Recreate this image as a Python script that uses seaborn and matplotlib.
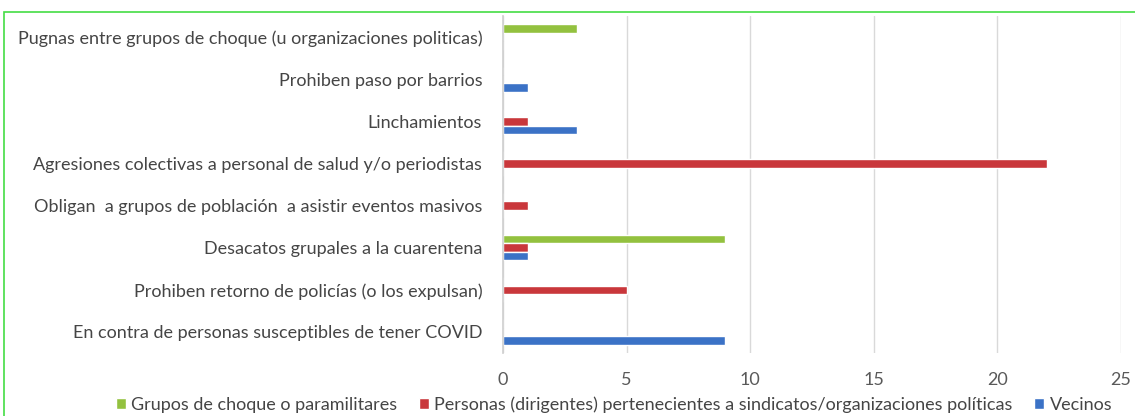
import matplotlib
matplotlib.use("Agg")
import matplotlib.pyplot as plt
import seaborn as sns
import pandas as pd
from matplotlib.patches import Rectangle

categories = [
    "Pugnas entre grupos de choque (u organizaciones politicas)",
    "Prohiben paso por barrios",
    "Linchamientos",
    "Agresiones colectivas a personal de salud y/o periodistas",
    "Obligan  a grupos de población  a asistir eventos masivos",
    "Desacatos grupales a la cuarentena",
    "Prohiben retorno de policías (o los expulsan)",
    "En contra de personas susceptibles de tener COVID",
]
series = [
    "Grupos de choque o paramilitares",
    "Personas (dirigentes) pertenecientes a sindicatos/organizaciones políticas",
    "Vecinos",
]
grupos = [3, 0, 0, 0, 0, 9, 0, 0]
personas = [0, 0, 1, 22, 1, 1, 5, 0]
vecinos = [0, 1, 3, 0, 0, 1, 0, 9]
xticks = [0, 5, 10, 15, 20, 25]
colors = ["#93C13F", "#C9373B", "#3B72C6"]

rows = []
for s, vals in zip(series, [grupos, personas, vecinos]):
    for c, v in zip(categories, vals):
        rows.append({"cat": c, "serie": s, "val": v})
df = pd.DataFrame(rows)

sns.set_theme(style="white")
plt.rcParams["font.family"] = ["Lato", "DejaVu Sans"]

fig = plt.figure(figsize=(11.35, 4.16), dpi=100)
ax = fig.add_axes([503/1135, 1-353/416, (1121-503)/1135, (353-16)/416])

sns.barplot(data=df, y="cat", x="val", hue="serie", order=categories,
            hue_order=series, palette=colors, orient="h", width=0.6,
            saturation=1, ax=ax, legend=True)

ax.set_xlim(0, 25)
ax.set_xticks(xticks)
ax.set_xlabel("")
ax.set_ylabel("")
ax.grid(axis="x", color="#d9d9d9", linewidth=1)
ax.set_axisbelow(True)
for sp in ["top", "right", "bottom"]:
    ax.spines[sp].set_visible(False)
ax.spines["left"].set_color("#d0d0d0")
ax.tick_params(axis="y", length=0, pad=15, labelsize=13, labelcolor="#454545")
ax.tick_params(axis="x", length=0, pad=14, labelsize=13, labelcolor="#595959")

handles, labels = ax.get_legend_handles_labels()
ax.legend(handles, labels, loc="lower center", bbox_to_anchor=(614/1135, -0.014),
          bbox_transform=fig.transFigure, ncol=3, frameon=False,
          handlelength=0.55, handleheight=0.55, handletextpad=0.3,
          columnspacing=1.2, fontsize=13, labelcolor="#454545",
          borderaxespad=0.1)

fig.patches.append(Rectangle((4/1135, -0.1), 1.2, 1.1 - 12/416,
                             transform=fig.transFigure, fill=False,
                             edgecolor="#44DD44", linewidth=1.2))

fig.savefig("out.png", dpi=100)
